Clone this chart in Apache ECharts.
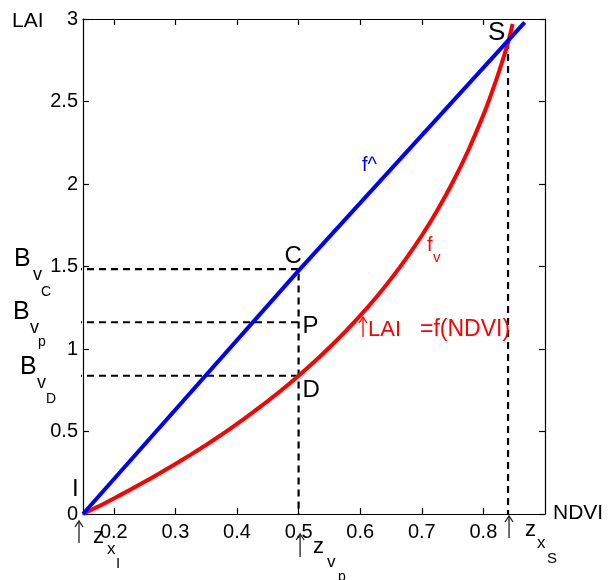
<!DOCTYPE html>
<html><head><meta charset="utf-8">
<script src="https://cdn.jsdelivr.net/npm/echarts@6/dist/echarts.min.js"></script>
<style>html,body{margin:0;padding:0;background:#fff}#c{width:608px;height:580px}</style>
</head><body><div id="c"></div>
<script>
// ---- data ----
const xTicks = [0.2, 0.3, 0.4, 0.5, 0.6, 0.7, 0.8];
const xRange = [0.15, 0.9];
const yRange = [0, 3];
const yInterval = 0.5;
// f_v : LAI = f(NDVI) (red curve)
const ndvi  = [0.15,0.175,0.2,0.225,0.25,0.275,0.3,0.325,0.35,0.375,0.4,0.425,0.45,0.475,0.5,0.525,0.55,0.575,0.6,0.625,0.65,0.675,0.7,0.725,0.75,0.775,0.8,0.81,0.82,0.83,0.84,0.8475];
const laiFv = [0,0.046,0.094,0.144,0.195,0.248,0.303,0.36,0.419,0.481,0.546,0.614,0.685,0.759,0.838,0.921,1.009,1.102,1.202,1.309,1.425,1.551,1.688,1.84,2.009,2.2,2.419,2.517,2.622,2.735,2.857,2.97];
// f^ (blue line)
const fHatNdvi = [0.15, 0.5, 0.867];
const fHatLai  = [0, 1.475, 2.98];
// key points
const pointI = [0.15, 0];
const pointC = [0.5, 1.484];
const pointP = [0.5, 1.162];
const pointD = [0.5, 0.838];
const pointS = [0.84, 2.86];
const guideStartNdvi = 0.137;

const FF = '"Liberation Sans", Arial, Helvetica, sans-serif';
const chart = echarts.init(document.getElementById('c'), null, {renderer: 'canvas'});

const zip = (xs, ys) => xs.map((x, i) => [x, ys[i]]);
const dashStyle = {color: '#000', width: 2.2, type: [7, 5]};
const guide = (data) => ({type: 'line', data, showSymbol: false, symbol: 'none', clip: false, z: 1,
  lineStyle: dashStyle, silent: true, animation: false});

const axisCommon = {
  axisLine: {show: true, onZero: false, lineStyle: {color: '#000', width: 1.2}},
  splitLine: {show: false}
};

chart.setOption({
  animation: false,
  backgroundColor: '#fff',
  grid: {left: 83, right: 63, top: 19, bottom: 66, containLabel: false},
  xAxis: [
    Object.assign({type: 'value', min: xRange[0], max: xRange[1], position: 'bottom',
      axisTick: {show: true, inside: true, length: 6, customValues: xTicks, lineStyle: {color: '#000', width: 1.2}},
      axisLabel: {show: true, customValues: xTicks, margin: 8, fontSize: 20, fontFamily: FF, color: '#000',
        formatter: v => v.toFixed(1)}}, axisCommon),
    Object.assign({type: 'value', min: xRange[0], max: xRange[1], position: 'top',
      axisTick: {show: true, inside: true, length: 6, customValues: xTicks, lineStyle: {color: '#000', width: 1.2}},
      axisLabel: {show: false}}, axisCommon)
  ],
  yAxis: [
    Object.assign({type: 'value', min: yRange[0], max: yRange[1], interval: yInterval, position: 'left',
      axisTick: {show: true, inside: true, length: 6, lineStyle: {color: '#000', width: 1.2}},
      axisLabel: {show: true, margin: 5, fontSize: 20, fontFamily: FF, color: '#000'}}, axisCommon),
    Object.assign({type: 'value', min: yRange[0], max: yRange[1], interval: yInterval, position: 'right',
      axisTick: {show: true, inside: true, length: 6, lineStyle: {color: '#000', width: 1.2}},
      axisLabel: {show: false}}, axisCommon)
  ],
  series: [
    guide([[guideStartNdvi, pointC[1]], pointC, [pointC[0], 0]]),
    guide([[guideStartNdvi, pointP[1]], pointP]),
    guide([[guideStartNdvi, pointD[1]], pointD]),
    guide([pointS, [pointS[0], 0]]),
    {type: 'line', data: zip(ndvi, laiFv), showSymbol: false, symbol: 'none', z: 3, clip: false, smooth: 0.2,
      lineStyle: {color: '#ff0000', width: 4}, silent: true},
    {type: 'line', data: zip(fHatNdvi, fHatLai), showSymbol: false, symbol: 'none', z: 4, clip: false,
      lineStyle: {color: '#0000ff', width: 4}, silent: true}
  ]
});

// ---- annotations ----
const px = (p) => chart.convertToPixel({xAxisIndex: 0, yAxisIndex: 0}, p);
const T = (text, x, y, size, color) => ({type: 'text', x, y, silent: true, z: 10,
  style: {text, fontSize: size, fontFamily: FF, fill: color || '#000', align: 'left', verticalAlign: 'middle'}});
const arrow = (x, yTop, yBot, color) => ({type: 'group', silent: true, z: 10, children: [
  {type: 'line', shape: {x1: x, y1: yBot, x2: x, y2: yTop}, style: {stroke: color || '#222', lineWidth: 1.3}},
  {type: 'polyline', shape: {points: [[x - 4, yTop + 6], [x, yTop], [x + 4, yTop + 6]]}, style: {stroke: color || '#222', lineWidth: 1.3, fill: null}}
]});

const pI = px(pointI), pC = px(pointC), pP = px(pointP), pD = px(pointD), pS = px(pointS);
const g = [];
g.push(T('LAI', 12, 21, 21));
g.push(T('NDVI', 553, pI[1] - 1, 21));
// B labels
g.push(T('B', 14, pC[1] - 10, 25), T('v', 33, pC[1] + 6, 18), T('C', 41, pC[1] + 23, 14));
g.push(T('B', 13, pP[1] - 10, 25), T('v', 30, pP[1] + 6, 18), T('p', 38, pP[1] + 20, 14));
g.push(T('B', 20, pD[1] - 9, 25), T('v', 37, pD[1] + 7, 18), T('D', 46, pD[1] + 23, 14));
// point letters
g.push(T('C', pC[0] - 14, pC[1] - 13, 24));
g.push(T('P', pP[0] + 4, pP[1] + 4, 24));
g.push(T('D', pD[0] + 4, pD[1] + 15, 24));
g.push(T('S', pS[0] - 20, pS[1] - 9, 26));
g.push(T('I', pI[0] - 11, pI[1] - 25, 24));
// curve names
g.push(T('f^', 362, 165, 20, '#0000ff'));
g.push(T('f', 427, 245, 20, '#ff0000'), T('v', 433, 258, 15, '#ff0000'));
g.push(arrow(363, 317, 337, '#ff0000'));
g.push(T('LAI', 368, 329.5, 22, '#ff0000'), T('=f(NDVI)', 420, 329.5, 23, '#ff0000'));
// z labels below axis
g.push(arrow(pI[0] - 4, 521, 543));
g.push(T('z', 93, 537, 22), T('x', 107, 549.5, 17), T('I', 116, 564, 15));
g.push(arrow(pP[0] + 1.5, 534, 557));
g.push(T('z', 313, 546.5, 22), T('v', 327, 562.5, 17), T('p', 338, 577, 14));
g.push(arrow(pS[0] + 1, 516, 538));
g.push(T('z', 525, 529.5, 22), T('x', 537, 543.5, 17), T('S', 547, 559, 15));

chart.setOption({graphic: {elements: g}});
</script>
</body></html>
